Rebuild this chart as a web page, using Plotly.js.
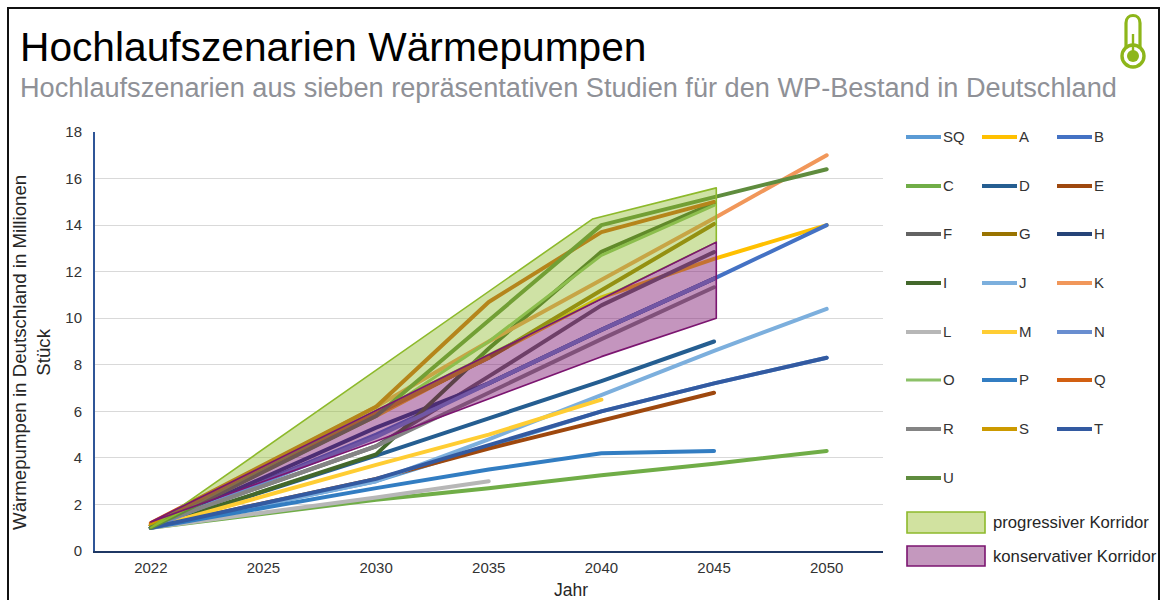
<!DOCTYPE html>
<html>
<head>
<meta charset="utf-8">
<script src="https://cdn.plot.ly/plotly-3.0.1.min.js"></script>
<style>
html,body{margin:0;padding:0;background:#fff;overflow:hidden}
#chart{width:1162px;height:600px}
.scatterlayer .js-line{stroke-linecap:round;stroke-linejoin:round}
</style>
</head>
<body>
<div id="chart"></div>
<script>
const years = ['2022','2025','2030','2035','2040','2045','2050'];
const _ = null;
const SQ = [1.0,_,3.0,_,6.0,7.2,8.3];
const A  = [1.1,_,5.8,_,10.9,12.55,14.0];
const B  = [1.0,_,5.0,7.2,9.5,11.7,14.0];
const C  = [1.0,_,2.2,2.7,3.25,3.75,4.3];
const D  = [1.0,_,4.1,5.7,7.3,9.0,_];
const E  = [1.0,_,3.1,4.4,5.6,6.8,_];
const F  = [1.1,_,4.5,7.5,10.55,12.84,_];
const G  = [1.1,_,5.9,8.3,11.2,14.05,_];
const H  = [1.0,_,5.3,7.2,9.5,11.7,_];
const I  = [1.0,_,4.15,8.7,12.85,14.95,_];
const J  = [1.0,_,3.0,4.8,6.7,8.6,10.4];
const K  = [1.1,_,6.2,9.0,11.65,14.3,17.0];
const L  = [1.0,_,2.3,3.0,_,_,_];
const M  = [1.0,_,3.7,5.0,6.5,_,_];
const N  = [1.0,_,4.9,7.2,9.5,11.7,_];
const O  = [1.0,_,5.8,9.0,12.7,14.85,_];
const P  = [1.0,_,2.7,3.5,4.2,4.3,_];
const Q  = [1.2,_,6.2,10.7,13.7,15.0,_];
const R  = [1.1,_,4.5,6.8,9.1,11.33,_];
const S  = [1.1,_,5.9,8.3,_,_,_];
const T  = [1.0,_,3.1,_,6.0,7.2,8.3];
const U  = [1.0,_,5.8,9.9,14.0,15.2,16.4];

const seriesNames  = ['SQ','A','B','C','D','E','F','G','H','I','J','K','L','M','N','O','P','Q','R','S','T','U'];
const seriesValues = [SQ,A,B,C,D,E,F,G,H,I,J,K,L,M,N,O,P,Q,R,S,T,U];
const seriesColors = ['#5B9BD5','#FFC000','#4472C4','#70AD47','#255E91','#9E480E','#636363','#997300','#264478','#43682B','#7CAFDD','#F1975A','#B7B7B7','#FFCD33','#698ED0','#8CC168','#327DC2','#D26012','#848484','#CC9A00','#335AA1','#5F8C3E'];

const progressivX = [0,3.92,5.02,5.02,4,2,0];
const progressivY = [1.0,14.26,15.6,13.27,10.85,6.05,1.0];
const konservativX = [0,2,4,5.02,5.02,4,2,0];
const konservativY = [1.25,6.05,10.85,13.27,10.0,8.35,4.72,1.25];

const W = 1162, HT = 600;
const px = v => v / W, py = v => 1 - v / HT;

const positions = years.map((y, i) => i);
const traces = seriesNames.map((name, i) => ({
  type:'scatter', mode:'lines', name,
  x: positions, y: seriesValues[i], connectgaps:true,
  line:{color:seriesColors[i], width: name==='O' ? 3 : 4},
  showlegend:false
}));
traces.push({type:'scatter',mode:'lines',name:'progressiver Korridor',x:progressivX,y:progressivY,
  fill:'toself',fillcolor:'rgba(140,185,40,0.42)',line:{color:'#8DB92B',width:1.6},showlegend:false});
traces.push({type:'scatter',mode:'lines',name:'konservativer Korridor',x:konservativX,y:konservativY,
  fill:'toself',fillcolor:'rgba(125,20,110,0.45)',line:{color:'#7B1570',width:1.6},showlegend:false});

const shapes = [], annotations = [];
const FONT = 'Liberation Sans';
// frame
shapes.push({type:'rect',xref:'paper',yref:'paper',x0:px(8),x1:px(1159),y0:py(620),y1:py(8),
  line:{color:'#111',width:2},fillcolor:'rgba(0,0,0,0)',layer:'below'});

// legend grid
const colX = [906,982,1057], rowY = [137,186,234,283,332,380,429,478];
seriesNames.forEach((name,i)=>{
  const c = i%3, r = Math.floor(i/3), x = colX[c], y = rowY[r];
  shapes.push({type:'line',xref:'paper',yref:'paper',x0:px(x),x1:px(x+35),y0:py(y),y1:py(y),
    line:{color:seriesColors[i],width:name==='O'?3:4}});
  annotations.push({xref:'paper',yref:'paper',x:px(x+35),y:py(y-0.5),xanchor:'left',yanchor:'middle',
    text:name,showarrow:false,font:{family:FONT,size:15,color:'#333'}});
});
// corridor legend
[[512,533,'rgb(209,226,160)','#8DB92B','progressiver Korridor'],
 [546,566,'rgb(196,152,190)','#7B1570','konservativer Korridor']].forEach(([a,b,f,l,t])=>{
  shapes.push({type:'rect',xref:'paper',yref:'paper',x0:px(907),x1:px(985),y0:py(b),y1:py(a),
    fillcolor:f,line:{color:l,width:1.6}});
  annotations.push({xref:'paper',yref:'paper',x:px(991),y:py((a+b)/2),xanchor:'left',yanchor:'middle',
    text:t,showarrow:false,font:{family:FONT,size:16.7,color:'#262626'}});
});

// thermometer icon
const green = '#8DB61A';
const tx = v => px(v), ty = v => py(v);
shapes.push({type:'path',xref:'paper',yref:'paper',
  path:`M ${tx(1126)} ${ty(48)} L ${tx(1126)} ${ty(23)} C ${tx(1126)} ${ty(13)} ${tx(1140)} ${ty(13)} ${tx(1140)} ${ty(23)} L ${tx(1140)} ${ty(48)}`,
  fillcolor:'rgba(0,0,0,0)',line:{color:green,width:3.2}});
shapes.push({type:'circle',xref:'paper',yref:'paper',x0:px(1122),x1:px(1144),y0:py(67),y1:py(45),
  fillcolor:'#fff',line:{color:green,width:3.4}});
shapes.push({type:'circle',xref:'paper',yref:'paper',x0:px(1127),x1:px(1139),y0:py(62),y1:py(50),
  fillcolor:green,line:{width:0}});
shapes.push({type:'line',xref:'paper',yref:'paper',x0:px(1133),x1:px(1133),y0:py(52),y1:py(34),
  line:{color:green,width:2.4}});

// titles
annotations.push({xref:'paper',yref:'paper',x:px(18),y:py(47),xanchor:'left',yanchor:'middle',
  text:'Hochlaufszenarien Wärmepumpen',showarrow:false,font:{family:FONT,size:40.7,color:'#000'}});
annotations.push({xref:'paper',yref:'paper',x:px(18),y:py(87),xanchor:'left',yanchor:'middle',
  text:'Hochlaufszenarien aus sieben repräsentativen Studien für den WP-Bestand in Deutschland',
  showarrow:false,font:{family:FONT,size:27.15,color:'#8F9197'}});
// axis titles (placed off-centre as in the source)
annotations.push({xref:'paper',yref:'paper',x:px(571),y:py(590),xanchor:'center',yanchor:'middle',
  text:'Jahr',showarrow:false,font:{family:FONT,size:17.5,color:'#262626'}});
annotations.push({xref:'paper',yref:'paper',x:px(31),y:py(353),xanchor:'center',yanchor:'middle',textangle:-90,
  text:'Wärmepumpen in Deutschland in Millionen<br>Stück',showarrow:false,font:{family:FONT,size:18.7,color:'#262626'}});

const layout = {
  width:W,height:HT,autosize:false,
  margin:{l:0,r:0,t:0,b:0,pad:0},
  paper_bgcolor:'#fff',plot_bgcolor:'#fff',
  showlegend:false,
  xaxis:{domain:[px(94.5),px(883)],type:'linear',range:[-0.5,6.5],tickmode:'array',
    tickvals:positions,ticktext:years,showgrid:false,zeroline:false,
    showline:true,linecolor:'#1F3864',linewidth:1.5,ticks:'',ticklen:0,ticklabelstandoff:2,
    tickfont:{family:FONT,size:15,color:'#333'},automargin:false},
  yaxis:{domain:[py(551),py(132)],range:[0,18],dtick:2,tick0:0,gridcolor:'#D9D9D9',gridwidth:1,
    zeroline:false,showline:true,linecolor:'#2F5597',linewidth:1.5,ticks:'',
    tickfont:{family:FONT,size:15,color:'#333'},automargin:false,
    ticklabelstandoff:8},
  shapes,annotations
};
Plotly.newPlot('chart',traces,layout,{displayModeBar:false,staticPlot:true});
</script>
</body>
</html>
